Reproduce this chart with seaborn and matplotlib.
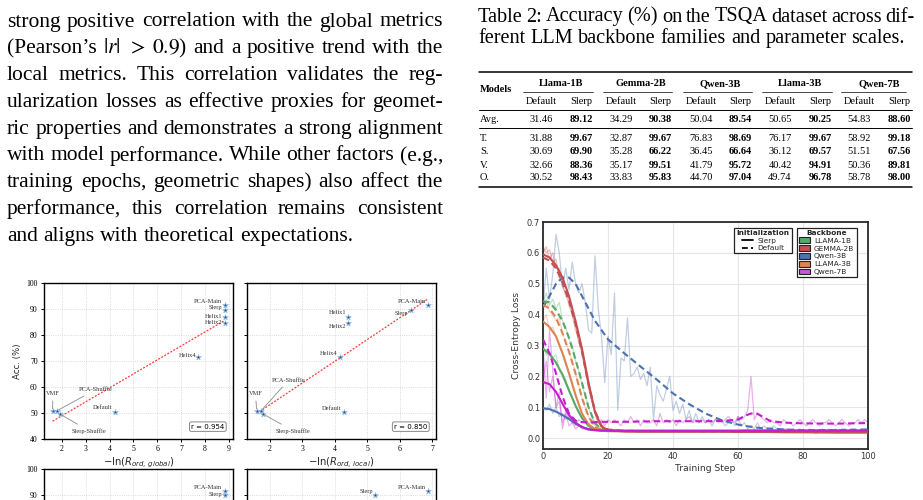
import matplotlib
matplotlib.use("Agg")
import matplotlib.pyplot as plt
import seaborn as sns
import pandas as pd
from matplotlib.lines import Line2D
from matplotlib.patches import Patch

# ---------------------------------------------------------------- text data
paragraph_lines = [
    "strong positive correlation with the global metrics",
    "(Pearson’s $|r|$ $>$ $0.9$) and a positive trend with the",
    "local metrics.  This correlation validates the reg-",
    "ularization losses as effective proxies for geomet-",
    "ric properties and demonstrates a strong alignment",
    "with model performance. While other factors (e.g.,",
    "training epochs, geometric shapes) also affect the",
    "performance, this correlation remains consistent",
    "and aligns with theoretical expectations.",
]
caption_lines = [
    "Table 2: Accuracy (%) on the TSQA dataset across dif-",
    "ferent LLM backbone families and parameter scales.",
]

# ---------------------------------------------------------------- table data
table_backbones = ["Llama-1B", "Gemma-2B", "Qwen-3B", "Llama-3B", "Qwen-7B"]
table_inits = ["Default", "Slerp"]
table_row_names = ["Avg.", "T.", "S.", "V.", "O."]
table_avg = [31.46, 89.12, 34.29, 90.38, 50.04, 89.54, 50.65, 90.25, 54.83, 88.60]
table_T = [31.88, 99.67, 32.87, 99.67, 76.83, 98.69, 76.17, 99.67, 58.92, 99.18]
table_S = [30.69, 69.90, 35.28, 66.22, 36.45, 66.64, 36.12, 69.57, 51.51, 67.56]
table_V = [32.66, 88.36, 35.17, 99.51, 41.79, 95.72, 40.42, 94.91, 50.36, 89.81]
table_O = [30.52, 98.43, 33.83, 95.83, 44.70, 97.04, 49.74, 96.78, 58.78, 98.00]

# ---------------------------------------------------------------- scatter data
methods = ["PCA-Main", "Slerp", "Helix1", "Helix2", "Helix4",
           "VMF", "PCA-Shuffle", "Slerp-Shuffle", "Default"]
accuracy = [91.5, 89.7, 86.8, 84.8, 71.6, 50.8, 50.8, 49.6, 50.3]
neg_ln_global = [8.82, 8.82, 8.82, 8.82, 7.70, 1.61, 1.78, 1.92, 4.22]
neg_ln_local = [6.87, 6.35, 4.42, 4.42, 4.16, 1.59, 1.72, 1.79, 4.28]
r_global = "r = 0.954"
r_local = "r = 0.850"
row2_methods = ["PCA-Main", "Slerp"]
row2_accuracy = [91.6, 89.9]
row2_left_x = [8.82, 8.82]
row2_right_x = [6.87, 5.24]

# ---------------------------------------------------------------- loss data
backbones = ["LLAMA-1B", "GEMMA-2B", "Qwen-3B", "LLAMA-3B", "Qwen-7B"]
steps_smooth = [0, 2, 4, 6, 8, 10, 12, 14, 16, 18, 20, 25, 30, 35, 40, 45,
                50, 55, 60, 62, 64, 66, 68, 70, 75, 80, 90, 100]
llama1b_slerp = [0.290, 0.272, 0.245, 0.205, 0.155, 0.105, 0.065, 0.040, 0.028, 0.024, 0.023,
                 0.023, 0.023, 0.023, 0.023, 0.023, 0.023, 0.023, 0.023, 0.023, 0.023, 0.023,
                 0.023, 0.023, 0.023, 0.023, 0.023, 0.023]
llama1b_default = [0.443, 0.440, 0.415, 0.380, 0.325, 0.255, 0.180, 0.100, 0.048, 0.030, 0.025,
                   0.023, 0.023, 0.023, 0.023, 0.023, 0.023, 0.023, 0.023, 0.023, 0.023, 0.023,
                   0.023, 0.023, 0.022, 0.022, 0.022, 0.022]
gemma2b_slerp = [0.595, 0.585, 0.560, 0.520, 0.460, 0.380, 0.290, 0.180, 0.085, 0.038, 0.026,
                 0.022, 0.021, 0.021, 0.021, 0.021, 0.021, 0.021, 0.020, 0.020, 0.020, 0.020,
                 0.020, 0.020, 0.019, 0.019, 0.018, 0.018]
gemma2b_default = [0.585, 0.575, 0.550, 0.505, 0.445, 0.370, 0.280, 0.175, 0.088, 0.040, 0.028,
                   0.024, 0.023, 0.023, 0.023, 0.023, 0.022, 0.022, 0.022, 0.022, 0.022, 0.022,
                   0.022, 0.022, 0.021, 0.021, 0.020, 0.020]
qwen3b_slerp = [0.097, 0.094, 0.086, 0.075, 0.062, 0.047, 0.036, 0.029, 0.026, 0.025, 0.024,
                0.024, 0.024, 0.024, 0.024, 0.024, 0.024, 0.024, 0.024, 0.025, 0.025, 0.025,
                0.025, 0.025, 0.025, 0.025, 0.025, 0.025]
qwen3b_default = [0.423, 0.460, 0.500, 0.520, 0.520, 0.500, 0.460, 0.420, 0.380, 0.350, 0.320,
                  0.275, 0.232, 0.190, 0.145, 0.110, 0.080, 0.058, 0.044, 0.040, 0.037, 0.034,
                  0.032, 0.031, 0.028, 0.026, 0.026, 0.028]
llama3b_slerp = [0.378, 0.360, 0.330, 0.275, 0.210, 0.140, 0.080, 0.044, 0.030, 0.025, 0.023,
                 0.022, 0.022, 0.022, 0.022, 0.022, 0.022, 0.022, 0.022, 0.022, 0.022, 0.022,
                 0.022, 0.022, 0.022, 0.022, 0.022, 0.022]
llama3b_default = [0.432, 0.420, 0.390, 0.340, 0.280, 0.210, 0.130, 0.070, 0.036, 0.027, 0.024,
                   0.023, 0.023, 0.023, 0.023, 0.023, 0.023, 0.023, 0.023, 0.023, 0.023, 0.023,
                   0.023, 0.023, 0.022, 0.022, 0.022, 0.022]
qwen7b_slerp = [0.182, 0.175, 0.150, 0.112, 0.075, 0.050, 0.036, 0.029, 0.026, 0.025, 0.024,
                0.024, 0.024, 0.024, 0.024, 0.024, 0.024, 0.024, 0.024, 0.024, 0.024, 0.024,
                0.024, 0.024, 0.024, 0.024, 0.024, 0.024]
qwen7b_default = [0.320, 0.275, 0.210, 0.135, 0.080, 0.057, 0.052, 0.051, 0.052, 0.053, 0.053,
                  0.053, 0.054, 0.055, 0.055, 0.055, 0.055, 0.056, 0.060, 0.072, 0.080, 0.079,
                  0.067, 0.055, 0.050, 0.048, 0.047, 0.049]

steps_raw_early = [0, 1, 2, 3, 4, 5, 6, 7, 8, 9, 10, 11, 12, 13, 14, 15, 16, 17, 18, 19, 20]
llama1b_slerp_raw = [0.30, 0.27, 0.28, 0.26, 0.27, 0.22, 0.21, 0.19, 0.15, 0.13, 0.11,
                     0.08, 0.07, 0.05, 0.04, 0.03, 0.03, 0.025, 0.025, 0.025, 0.025]
llama1b_default_raw = [0.44, 0.47, 0.43, 0.45, 0.42, 0.44, 0.38, 0.36, 0.32, 0.30, 0.25,
                       0.22, 0.17, 0.14, 0.10, 0.07, 0.05, 0.04, 0.03, 0.03, 0.03]
gemma2b_slerp_raw = [0.62, 0.60, 0.61, 0.57, 0.58, 0.52, 0.50, 0.46, 0.45, 0.40, 0.37,
                     0.31, 0.28, 0.22, 0.17, 0.12, 0.08, 0.05, 0.04, 0.03, 0.03]
gemma2b_default_raw = [0.60, 0.62, 0.58, 0.60, 0.55, 0.55, 0.49, 0.47, 0.43, 0.40, 0.35,
                       0.32, 0.27, 0.22, 0.16, 0.12, 0.08, 0.05, 0.04, 0.03, 0.03]
qwen3b_slerp_raw = [0.10, 0.09, 0.11, 0.08, 0.10, 0.07, 0.08, 0.06, 0.07, 0.05, 0.05,
                    0.04, 0.04, 0.03, 0.03, 0.025, 0.025, 0.025, 0.025, 0.025, 0.025]
llama3b_slerp_raw = [0.38, 0.40, 0.35, 0.36, 0.33, 0.30, 0.28, 0.25, 0.21, 0.18, 0.14,
                     0.11, 0.08, 0.06, 0.04, 0.035, 0.03, 0.025, 0.025, 0.025, 0.025]
llama3b_default_raw = [0.43, 0.45, 0.41, 0.40, 0.38, 0.39, 0.34, 0.31, 0.28, 0.25, 0.21,
                       0.17, 0.13, 0.10, 0.07, 0.05, 0.04, 0.03, 0.03, 0.025, 0.025]
qwen7b_slerp_raw = [0.18, 0.25, 0.15, 0.20, 0.10, 0.12, 0.05, 0.08, 0.04, 0.05, 0.03,
                    0.04, 0.03, 0.03, 0.025, 0.03, 0.025, 0.025, 0.025, 0.025, 0.025]

steps_raw_full = list(range(0, 101))
qwen3b_default_raw = [
    0.42, 0.55, 0.45, 0.53, 0.66, 0.60, 0.49, 0.55, 0.48, 0.57,
    0.50, 0.47, 0.50, 0.44, 0.35, 0.34, 0.59, 0.42, 0.33, 0.18,
    0.33, 0.27, 0.47, 0.09, 0.26, 0.25, 0.39, 0.20, 0.21, 0.23,
    0.19, 0.21, 0.17, 0.23, 0.06, 0.17, 0.14, 0.12, 0.16, 0.20,
    0.09, 0.12, 0.08, 0.11, 0.06, 0.09, 0.05, 0.08, 0.05, 0.07,
    0.05, 0.06, 0.04, 0.06, 0.05, 0.06, 0.04, 0.05, 0.06, 0.04,
    0.07, 0.04, 0.05, 0.03, 0.04, 0.03, 0.05, 0.03, 0.04, 0.03,
    0.03, 0.04, 0.03, 0.02, 0.03, 0.03, 0.02, 0.03, 0.02, 0.03,
    0.02, 0.02, 0.03, 0.02, 0.015, 0.02, 0.03, 0.02, 0.03, 0.02,
    0.03, 0.02, 0.03, 0.03, 0.02, 0.03, 0.03, 0.02, 0.03, 0.03, 0.03]
qwen7b_default_raw = [
    0.30, 0.13, 0.35, 0.22, 0.10, 0.15, 0.03, 0.09, 0.06, 0.07,
    0.04, 0.06, 0.05, 0.06, 0.04, 0.06, 0.05, 0.05, 0.06, 0.04,
    0.06, 0.05, 0.06, 0.05, 0.04, 0.06, 0.05, 0.07, 0.05, 0.06,
    0.04, 0.06, 0.05, 0.05, 0.06, 0.04, 0.08, 0.05, 0.06, 0.05,
    0.06, 0.04, 0.06, 0.05, 0.06, 0.07, 0.05, 0.06, 0.05, 0.06,
    0.05, 0.06, 0.05, 0.06, 0.06, 0.05, 0.06, 0.07, 0.06, 0.05,
    0.07, 0.06, 0.07, 0.09, 0.20, 0.06, 0.08, 0.07, 0.06, 0.05,
    0.06, 0.05, 0.05, 0.04, 0.06, 0.05, 0.05, 0.04, 0.05, 0.06,
    0.05, 0.04, 0.05, 0.06, 0.05, 0.04, 0.05, 0.05, 0.06, 0.05,
    0.04, 0.05, 0.06, 0.05, 0.04, 0.05, 0.05, 0.06, 0.05, 0.06, 0.05]

# ---------------------------------------------------------------- setup
sns.set_theme(style="whitegrid")
plt.rcParams["font.family"] = ["DejaVu Sans"]
SERIF = "Liberation Serif"
W, H = 923, 500
fig = plt.figure(figsize=(W / 100, H / 100), dpi=100)
fig.patch.set_facecolor("white")
renderer = fig.canvas.get_renderer()


def fx(px):
    return px / W


def fy(py):
    return 1 - py / H


def axes_px(l, t, r, b):
    return fig.add_axes([fx(l), fy(b), (r - l) / W, (b - t) / H])


def justified(lines, x0, x1, baselines, size, justify_last=False):
    for i, (line, yb) in enumerate(zip(lines, baselines)):
        words = line.split()
        texts = [fig.text(0, fy(yb), w, fontsize=size, family=SERIF,
                          math_fontfamily="stix", va="baseline", ha="left",
                          color="black") for w in words]
        widths = [t.get_window_extent(renderer).width for t in texts]
        last = (i == len(lines) - 1) and not justify_last
        if last or len(words) < 2:
            gap = size * 100 / 72 * 0.25
        else:
            gap = (x1 - x0 - sum(widths)) / (len(words) - 1)
        x = x0
        for t, w in zip(texts, widths):
            t.set_x(fx(x))
            x += w + gap


# paragraph + caption
justified(paragraph_lines, 7, 443, [26.5 + 26.8 * k for k in range(len(paragraph_lines))], 15.5)
justified(caption_lines, 478, 915, [21.5, 43.3], 14.6)

# ---------------------------------------------------------------- table
TS = 7.5
col_x = [541, 581, 621, 660, 701, 740, 780, 820, 859, 899]


def ttext(px, py, s, ha="center", bold=False):
    fig.text(fx(px), fy(py), s, fontsize=TS, family=SERIF, ha=ha, va="baseline",
             fontweight="bold" if bold else "normal", color="black")


def hrule(y, x0, x1, lw):
    fig.add_artist(Line2D([fx(x0), fx(x1)], [fy(y), fy(y)], color="black", lw=lw,
                          transform=fig.transFigure))


hrule(72, 479, 912, 1.1)
hrule(109.5, 479, 912, 0.7)
hrule(128, 479, 912, 0.7)
hrule(187, 479, 912, 1.1)
ttext(480, 91.5, "Models", ha="left", bold=True)
for g, name in enumerate(table_backbones):
    cx = (col_x[2 * g] + col_x[2 * g + 1]) / 2
    ttext(cx, 86.5, name, bold=True)
    hrule(91.5, col_x[2 * g] - 18, col_x[2 * g + 1] + 12 if g < 4 else col_x[2 * g + 1] + 7, 0.5)
    for k, ini in enumerate(table_inits):
        ttext(col_x[2 * g + k], 104.5, ini)
row_vals = [table_avg, table_T, table_S, table_V, table_O]
row_y = [122.5, 141, 154.5, 167.5, 180.5]
for name, vals, yb in zip(table_row_names, row_vals, row_y):
    ttext(480, yb, name, ha="left")
    for j, v in enumerate(vals):
        ttext(col_x[j], yb, f"{v:.2f}", bold=(j % 2 == 1))

# ---------------------------------------------------------------- loss chart
colors = {"LLAMA-1B": "#55a868", "GEMMA-2B": "#c44e52", "Qwen-3B": "#4c72b0",
          "LLAMA-3B": "#dd8452", "Qwen-7B": "#c21fcc"}
patch_colors = {"LLAMA-1B": "#55a868", "GEMMA-2B": "#c44e52", "Qwen-3B": "#4c72b0",
                "LLAMA-3B": "#dd8452", "Qwen-7B": "#cc55dd"}
axl = axes_px(543, 222, 868, 449)
axl.set_facecolor("white")
raw_series = [
    ("LLAMA-1B", steps_raw_early, llama1b_slerp_raw), ("LLAMA-1B", steps_raw_early, llama1b_default_raw),
    ("GEMMA-2B", steps_raw_early, gemma2b_slerp_raw), ("GEMMA-2B", steps_raw_early, gemma2b_default_raw),
    ("Qwen-3B", steps_raw_early, qwen3b_slerp_raw), ("Qwen-3B", steps_raw_full, qwen3b_default_raw),
    ("LLAMA-3B", steps_raw_early, llama3b_slerp_raw), ("LLAMA-3B", steps_raw_early, llama3b_default_raw),
    ("Qwen-7B", steps_raw_early, qwen7b_slerp_raw), ("Qwen-7B", steps_raw_full, qwen7b_default_raw),
]
for name, xs, ys in raw_series:
    sns.lineplot(x=xs, y=ys, ax=axl, color=colors[name], lw=0.9, alpha=0.35,
                 errorbar=None, zorder=1)
smooth_series = [
    ("Qwen-3B", qwen3b_slerp, "-"), ("Qwen-3B", qwen3b_default, "--"),
    ("LLAMA-1B", llama1b_slerp, "-"), ("LLAMA-1B", llama1b_default, "--"),
    ("LLAMA-3B", llama3b_slerp, "-"), ("LLAMA-3B", llama3b_default, "--"),
    ("GEMMA-2B", gemma2b_slerp, "-"), ("GEMMA-2B", gemma2b_default, "--"),
    ("Qwen-7B", qwen7b_slerp, "-"), ("Qwen-7B", qwen7b_default, "--"),
]
for name, ys, ls in smooth_series:
    sns.lineplot(x=steps_smooth, y=ys, ax=axl, color=colors[name], lw=1.5,
                 linestyle=ls if ls == "-" else (0, (3.2, 1.8)), errorbar=None, zorder=3)
axl.set_xlim(0, 100)
axl.set_ylim(-0.035, 0.7)
axl.set_xticks([0, 20, 40, 60, 80, 100])
axl.set_yticks([0.0, 0.1, 0.2, 0.3, 0.4, 0.5, 0.6, 0.7])
axl.set_yticklabels(["0.0", "0.1", "0.2", "0.3", "0.4", "0.5", "0.6", "0.7"])
axl.grid(True, color="#e6e6e6", lw=0.8)
for s in axl.spines.values():
    s.set_color("#2a2a2a")
    s.set_linewidth(1.3)
axl.tick_params(axis="both", labelsize=6, colors="#333333", pad=2, length=0)
axl.set_xlabel("Training Step", fontsize=6.6, color="#333333", labelpad=2)
axl.set_ylabel("Cross-Entropy Loss", fontsize=6.6, color="#333333", labelpad=4)
leg1 = axl.legend(
    handles=[Line2D([], [], color="black", lw=1.3, ls="-", label="Slerp"),
             Line2D([], [], color="black", lw=1.3, ls=(0, (3.2, 1.8)), label="Default")],
    title="Initialization", loc="upper left", bbox_to_anchor=(0.588, 0.975),
    borderaxespad=0, fontsize=5.3, title_fontsize=5.3, frameon=True, fancybox=False,
    edgecolor="#222222", framealpha=1, handlelength=1.6, labelspacing=0.2,
    borderpad=0.3, handletextpad=0.5)
leg1.get_title().set_fontweight("bold")
leg1.get_frame().set_linewidth(0.9)
axl.add_artist(leg1)
leg2 = axl.legend(
    handles=[Patch(facecolor=patch_colors[n], edgecolor="#222222", lw=0.8, label=n) for n in backbones],
    title="Backbone", loc="upper left", bbox_to_anchor=(0.782, 0.975),
    borderaxespad=0, fontsize=5.3, title_fontsize=5.3, frameon=True, fancybox=False,
    edgecolor="#222222", framealpha=1, handlelength=1.5, handleheight=0.8, labelspacing=0.2,
    borderpad=0.3, handletextpad=0.5)
leg2.get_title().set_fontweight("bold")
leg2.get_frame().set_linewidth(0.9)

# ---------------------------------------------------------------- scatter panels
LBL = dict(fontsize=4.6, family=SERIF, color="#333333", va="center")


def style_scatter(ax, xlim, xticks, show_ylabels, show_xlabels=True):
    ax.set_facecolor("white")
    ax.set_xlim(*xlim)
    ax.set_ylim(40, 100)
    ax.set_xticks(xticks)
    ax.set_yticks([40, 50, 60, 70, 80, 90, 100])
    ax.grid(True, ls=":", color="#cfcfcf", lw=0.6)
    for s in ax.spines.values():
        s.set_color("black")
        s.set_linewidth(1.0)
    ax.tick_params(axis="both", length=2.5, width=0.7, colors="black", labelsize=5.6,
                   pad=2, bottom=True, left=True, direction="out")
    ax.tick_params(axis="y", labelleft=show_ylabels)
    ax.tick_params(axis="x", labelbottom=show_xlabels)
    for lab in ax.get_xticklabels() + ax.get_yticklabels():
        lab.set_family(SERIF)
    ax.set_xlabel("")
    ax.set_ylabel("")


def draw_points(ax, xs, ys, fit):
    df = pd.DataFrame({"x": xs, "y": ys})
    if fit:
        sns.regplot(data=df, x="x", y="y", ax=ax, scatter=False, ci=None, truncate=True,
                    line_kws=dict(color="#ff3b3b", lw=0.9, ls=(0, (1.6, 1.2))))
    sns.scatterplot(data=df, x="x", y="y", ax=ax, marker="*", s=18, color="#1f4f8f",
                    edgecolor="#9fc3e6", linewidth=0.5, zorder=4)


def label_points(ax, layout, leaders):
    for name, (tx, ty, ha) in layout.items():
        ax.text(tx, ty, name, ha=ha, **LBL)
    for name, (tx, ty, px, py) in leaders.items():
        ax.annotate(name, xy=(px, py), xytext=(tx, ty), ha="center",
                    arrowprops=dict(arrowstyle="-", color="#8a8a8a", lw=0.6,
                                    shrinkA=1, shrinkB=1.5), **LBL)


def r_box(ax, txt):
    ax.text(0.955, 0.06, txt, transform=ax.transAxes, ha="right", va="bottom", fontsize=5.0,
            color="black", bbox=dict(boxstyle="round,pad=0.25", fc="white", ec="#888888", lw=0.7))


ax1 = axes_px(44, 283, 233, 439)
draw_points(ax1, neg_ln_global, accuracy, True)
style_scatter(ax1, (1.25, 9.17), [2, 3, 4, 5, 6, 7, 8, 9], True)
label_points(ax1,
             {"PCA-Main": (8.72, 92.9, "right"), "Slerp": (8.72, 90.6, "right"),
              "Helix1": (8.72, 87.0, "right"), "Helix2": (8.72, 85.0, "right"),
              "Helix4": (7.62, 72.1, "right"), "Default": (4.13, 52.0, "right")},
             {"VMF": (1.62, 57.4, 1.61, 50.8), "PCA-Shuffle": (3.42, 59.0, 1.78, 50.8),
              "Slerp-Shuffle": (3.14, 43.1, 1.92, 49.6)})
r_box(ax1, r_global)
ax1.set_xlabel(r"$-\ln(R_{ord,\,global})$", fontsize=7.2, labelpad=2)
ax1.set_ylabel("Acc. (%)", fontsize=6.2, labelpad=3)

ax2 = axes_px(247, 283, 436, 439)
draw_points(ax2, neg_ln_local, accuracy, True)
style_scatter(ax2, (1.29, 7.12), [2, 3, 4, 5, 6, 7], False)
label_points(ax2,
             {"PCA-Main": (6.81, 93.0, "right"), "Slerp": (6.26, 88.1, "right"),
              "Helix1": (4.35, 88.5, "right"), "Helix2": (4.35, 83.2, "right"),
              "Helix4": (4.09, 72.9, "right"), "Default": (4.21, 51.9, "right")},
             {"VMF": (1.55, 57.4, 1.59, 50.8), "PCA-Shuffle": (2.57, 62.6, 1.72, 50.8),
              "Slerp-Shuffle": (2.72, 43.1, 1.79, 49.6)})
r_box(ax2, r_local)
ax2.set_xlabel(r"$-\ln(R_{ord,\,local})$", fontsize=7.2, labelpad=2)

# second row (cut by the page edge)
ax3 = axes_px(44, 469, 233, 625)
draw_points(ax3, row2_left_x, row2_accuracy, False)
style_scatter(ax3, (1.25, 9.17), [2, 3, 4, 5, 6, 7, 8, 9], True, show_xlabels=False)
ax3.set_yticks([90, 100])
for lab in ax3.get_yticklabels():
    lab.set_family(SERIF)
label_points(ax3, {"PCA-Main": (8.72, 93.0, "right"), "Slerp": (8.72, 90.3, "right")}, {})

ax4 = axes_px(247, 469, 436, 625)
draw_points(ax4, row2_right_x, row2_accuracy, False)
style_scatter(ax4, (1.29, 7.12), [2, 3, 4, 5, 6, 7], False, show_xlabels=False)
ax4.set_yticks([90, 100])
label_points(ax4, {"PCA-Main": (6.81, 93.0, "right"), "Slerp": (5.17, 91.4, "right")}, {})

fig.savefig("out.png", dpi=100, facecolor="white")
